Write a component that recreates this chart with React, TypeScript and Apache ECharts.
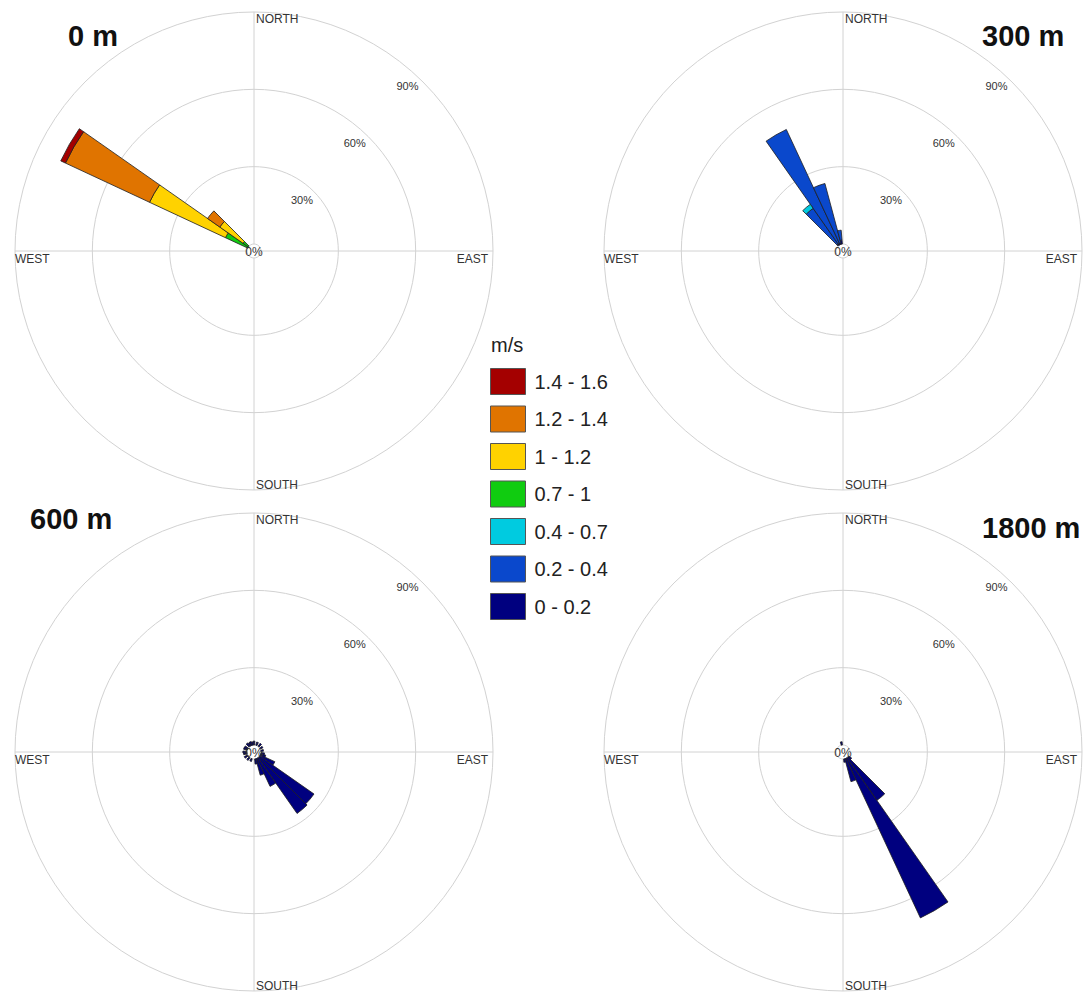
import React, { useEffect, useRef } from "react";
import * as echarts from "echarts";

// Wind direction sectors (degrees, clockwise from north), 10° each
const DIRECTIONS = [
  "0", "10", "20", "30", "40", "50", "60", "70", "80", "90", "100", "110",
  "120", "130", "140", "150", "160", "170", "180", "190", "200", "210", "220", "230",
  "240", "250", "260", "270", "280", "290", "300", "310", "320", "330", "340", "350",
];

// Speed classes (m/s), stacked from the centre outward
const BINS = ["0 - 0.2", "0.2 - 0.4", "0.4 - 0.7", "0.7 - 1", "1 - 1.2", "1.2 - 1.4", "1.4 - 1.6"];
const BIN_COLORS = ["#00007f", "#0a48cc", "#00cbe0", "#10cc10", "#ffd200", "#e07400", "#a40000"];
const LEGEND_ORDER = ["1.4 - 1.6", "1.2 - 1.4", "1 - 1.2", "0.7 - 1", "0.4 - 0.7", "0.2 - 0.4", "0 - 0.2"];

const HEIGHTS = ["0 m", "300 m", "600 m", "1800 m"];
const RING_VALUES = [30, 60, 90];
const RING_LABELS = ["30%", "60%", "90%"];
const COMPASS = ["NORTH", "EAST", "SOUTH", "WEST"];

// Frequency (%) per direction, one record per speed class
// 0 m
const H0_070_100: Record<string, number> = { "300": 9.5, "310": 2.5 };
const H0_100_120: Record<string, number> = { "300": 32.5, "310": 11 };
const H0_120_140: Record<string, number> = { "300": 36, "310": 5.8 };
const H0_140_160: Record<string, number> = { "300": 2 };

// 300 m
const H300_000_020: Record<string, number> = { "320": 0.6, "330": 0.6, "340": 0.6, "350": 1.5 };
const H300_020_040: Record<string, number> = { "320": 16.9, "330": 48.7, "340": 23.8, "350": 3.9 };
const H300_040_070: Record<string, number> = { "320": 1.9 };

// 600 m
const H600_000_020: Record<string, number> = {
  "0": 1.5, "20": 1.3, "40": 1.4, "60": 1.1, "80": 1.0, "100": 1.4,
  "110": 2, "120": 6.2, "130": 25.7, "140": 26.4, "150": 12, "160": 6.6, "170": 2,
  "200": 1.1, "220": 1.3, "240": 1.5, "260": 1.4, "270": 1.6, "290": 1.5,
  "300": 1.4, "320": 1.6, "330": 1.3, "340": 1.5, "350": 1.2,
};

// 1800 m
const H1800_000_020: Record<string, number> = {
  "130": 1.4, "140": 20.2, "150": 68.3, "160": 9.2, "170": 1.3, "350": 1.3,
};

const SERIES_BY_HEIGHT: (Record<string, number> | null)[][] = [
  [null, null, null, H0_070_100, H0_100_120, H0_120_140, H0_140_160],
  [H300_000_020, H300_020_040, H300_040_070, null, null, null, null],
  [H600_000_020, null, null, null, null, null, null],
  [H1800_000_020, null, null, null, null, null, null],
];

// Layout of the four roses
const CENTERS: [number, number][] = [
  [254, 251],
  [843, 251],
  [254, 752],
  [843, 752],
];
const R_INNER = 7;
const R_OUTER = 239;
const R_MAX = 90;
const TITLE_POS: { x: number; y: number }[] = [
  { x: 68, y: 36 },
  { x: 982, y: 36 },
  { x: 30, y: 519 },
  { x: 982, y: 528 },
];

const FONT = "'Liberation Sans', Arial, Helvetica, sans-serif";
const GRID_COLOR = "#d2d2d2";

function buildOption() {
  const polar: any[] = [];
  const angleAxis: any[] = [];
  const radiusAxis: any[] = [];
  const series: any[] = [];
  const graphic: any[] = [];

  // grid polars (0..3): compass cross and percentage rings
  CENTERS.forEach((c, i) => {
    polar.push({ center: c, radius: [R_INNER, R_OUTER] });
    angleAxis.push({
      polarIndex: i,
      type: "value",
      min: 0,
      max: 360,
      interval: 90,
      startAngle: 90,
      clockwise: true,
      axisLine: { show: false },
      axisTick: { show: false },
      axisLabel: { show: false },
      splitLine: { show: true, lineStyle: { color: GRID_COLOR, width: 1 } },
      z: 0,
    });
    radiusAxis.push({
      polarIndex: i,
      type: "value",
      min: 0,
      max: R_MAX,
      interval: 30,
      axisLine: { show: false },
      axisTick: { show: false },
      axisLabel: { show: false },
      splitLine: { show: true, lineStyle: { color: GRID_COLOR, width: 1 } },
      z: 0,
    });
  });

  // data polars (4..7): one 10° sector per direction
  CENTERS.forEach((c, i) => {
    polar.push({ center: c, radius: [R_INNER, R_OUTER] });
    angleAxis.push({
      polarIndex: 4 + i,
      type: "category",
      data: DIRECTIONS,
      startAngle: 95,
      clockwise: true,
      boundaryGap: true,
      axisLine: { show: false },
      axisTick: { show: false },
      axisLabel: { show: false },
      splitLine: { show: false },
    });
    radiusAxis.push({
      polarIndex: 4 + i,
      type: "value",
      min: 0,
      max: R_MAX,
      axisLine: { show: false },
      axisTick: { show: false },
      axisLabel: { show: false },
      splitLine: { show: false },
    });
  });

  SERIES_BY_HEIGHT.forEach((bins, h) => {
    bins.forEach((rec, b) => {
      if (!rec) return;
      series.push({
        type: "bar",
        name: BINS[b],
        coordinateSystem: "polar",
        polarIndex: 4 + h,
        stack: "h" + h,
        barCategoryGap: "0%",
        data: DIRECTIONS.map((d) => (rec[d] !== undefined ? rec[d] : "-")),
        itemStyle: { color: BIN_COLORS[b], borderColor: "#1e1e1e", borderWidth: 0.8 },
        emphasis: { disabled: true },
        z: 3,
      });
    });
  });

  const pxPerUnit = (R_OUTER - R_INNER) / R_MAX;
  CENTERS.forEach(([cx, cy], i) => {
    // title
    graphic.push({
      type: "text",
      x: TITLE_POS[i].x,
      y: TITLE_POS[i].y,
      style: {
        text: HEIGHTS[i],
        font: `bold 29px ${FONT}`,
        fill: "#111",
        textAlign: "left",
        textVerticalAlign: "middle",
      },
    });
    // compass labels
    const txt = (text: string, x: number, y: number, align: string, valign: string, size = 12) => ({
      type: "text",
      x,
      y,
      z: 10,
      style: {
        text,
        font: `${size}px ${FONT}`,
        fill: "#333",
        textAlign: align,
        textVerticalAlign: valign,
      },
    });
    graphic.push(txt(COMPASS[0], cx + 2, cy - R_OUTER + 1, "left", "top"));
    graphic.push(txt(COMPASS[1], cx + R_OUTER - 5, cy + 2, "right", "top"));
    graphic.push(txt(COMPASS[2], cx + 2, cy + R_OUTER + 1, "left", "bottom"));
    graphic.push(txt(COMPASS[3], cx - R_OUTER, cy + 2, "left", "top"));
    // ring labels along the 43° bearing, just inside each ring
    const a = (43 * Math.PI) / 180;
    RING_VALUES.forEach((v, k) => {
      const r = R_INNER + v * pxPerUnit - 14;
      graphic.push(txt(RING_LABELS[k], cx + r * Math.sin(a), cy - r * Math.cos(a), "center", "middle", 11));
    });
    graphic.push(txt("0%", cx, cy + 1, "center", "middle", 12));
  });

  graphic.push({
    type: "text",
    x: 491,
    y: 345,
    style: { text: "m/s", font: `20px ${FONT}`, fill: "#222", textAlign: "left", textVerticalAlign: "middle" },
  });

  return {
    animation: false,
    backgroundColor: "#ffffff",
    polar,
    angleAxis,
    radiusAxis,
    series,
    graphic,
    legend: {
      data: LEGEND_ORDER,
      orient: "vertical",
      left: 490,
      top: 368,
      padding: 0,
      itemWidth: 35,
      itemHeight: 26,
      itemGap: 10.5,
      selectedMode: false,
      icon: "rect",
      itemStyle: { borderColor: "#555", borderWidth: 1 },
      textStyle: { fontSize: 20, lineHeight: 20, fontFamily: FONT, color: "#222", padding: [0, 0, 0, 4] },
    },
  };
}

export default function App() {
  const ref = useRef<HTMLDivElement>(null);
  useEffect(() => {
    if (!ref.current) return;
    const chart = echarts.init(ref.current, undefined, { renderer: "svg" });
    chart.setOption(buildOption());
    return () => chart.dispose();
  }, []);
  return (
    <div
      ref={ref}
      style={{ position: "fixed", left: 0, top: 0, width: 1088, height: 992, background: "#fff" }}
    />
  );
}
